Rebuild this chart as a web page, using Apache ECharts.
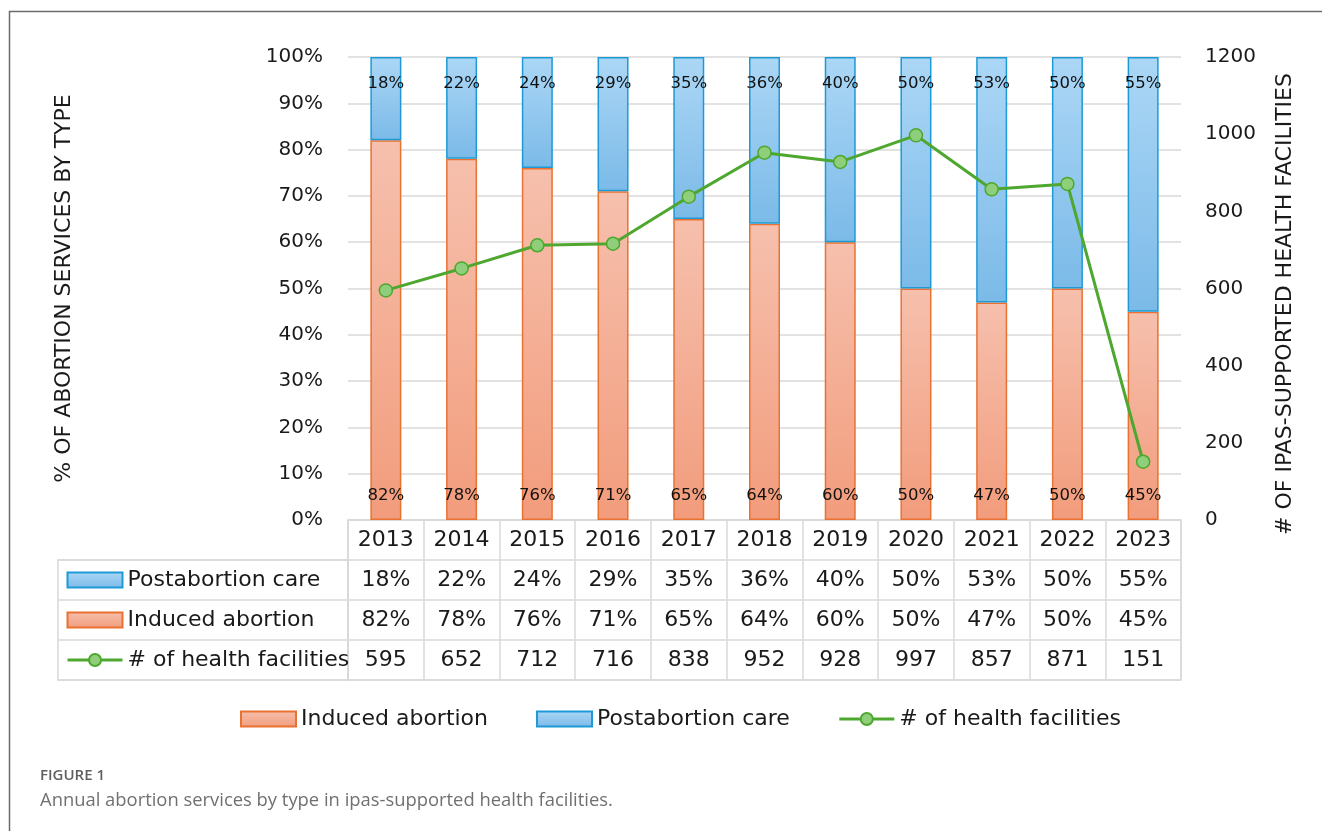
<!DOCTYPE html>
<html>
<head>
<meta charset="utf-8">
<script src="https://cdn.jsdelivr.net/npm/echarts@6/dist/echarts.min.js"></script>
<style>
html,body{margin:0;padding:0;background:#fff;}
#chart{width:1322px;height:831px;}
</style>
</head>
<body>
<div id="chart"></div>
<script>
const years = ['2013','2014','2015','2016','2017','2018','2019','2020','2021','2022','2023'];
const postabortion = [18,22,24,29,35,36,40,50,53,50,55];
const induced = [82,78,76,71,65,64,60,50,47,50,45];
const facilities = [595,652,712,716,838,952,928,997,857,871,151];
const leftTicks = {min:0, max:100, interval:10};
const rightTicks = {min:0, max:1200, interval:200};

const FONT = 'DejaVu Sans';
const TXT = '#1a1a1a';
const GRID = '#d9d9d9';

const blueFill = new echarts.graphic.LinearGradient(0,0,0,1,[{offset:0,color:'#acd7f6'},{offset:1,color:'#7bbae8'}]);
const orangeFill = new echarts.graphic.LinearGradient(0,0,0,1,[{offset:0,color:'#f6c0ad'},{offset:1,color:'#f29c7c'}]);

const chart = echarts.init(document.getElementById('chart'), null, {renderer:'canvas'});

const option = {
  backgroundColor:'#fff',
  animation:false,
  textStyle:{fontFamily:FONT},
  title:{
    text:'FIGURE 1',
    subtext:'Annual abortion services by type in ipas-supported health facilities.',
    left:40, top:768, itemGap:9, padding:0,
    textStyle:{fontFamily:'Open Sans', fontSize:15, fontWeight:600, color:'#5f5f5f'},
    subtextStyle:{fontFamily:'Open Sans', fontSize:18.4, color:'#707070'}
  },
  graphic:[{
    type:'rect', silent:true,
    shape:{x:9.5,y:11.5,width:1400,height:900},
    style:{fill:'none', stroke:'#6b6b6b', lineWidth:1.5}
  }],
  legend:[
    {
      orient:'vertical', left:66, top:569, padding:0, itemGap:18,
      itemWidth:55, itemHeight:15, selectedMode:false,
      lineStyle:{width:3},
      textStyle:{fontFamily:FONT, fontSize:22, color:TXT, lineHeight:22},
      data:[{name:'Postabortion care', icon:'rect'},{name:'Induced abortion', icon:'rect'},{name:'# of health facilities'}]
    },
    {
      orient:'horizontal', left:240, top:708, padding:0, itemGap:48,
      itemWidth:55, itemHeight:15, selectedMode:false,
      lineStyle:{width:3},
      textStyle:{fontFamily:FONT, fontSize:22, color:TXT, lineHeight:22},
      data:[{name:'Induced abortion', icon:'rect'},{name:'Postabortion care', icon:'rect'},{name:'# of health facilities'}]
    }
  ],
  grid:[
    {left:348, right:141, top:57, height:463},
    {left:348, right:141, top:520, height:160, show:true, borderColor:GRID, borderWidth:1.5, backgroundColor:'transparent'},
    {left:58, width:290, top:560, height:120, show:true, borderColor:GRID, borderWidth:1.5, backgroundColor:'transparent'}
  ],
  xAxis:[
    {
      type:'category', gridIndex:0, data:years,
      axisLine:{show:false}, axisTick:{show:false},
      axisLabel:{
        interval:0, margin:0, fontFamily:FONT, fontSize:22, color:TXT, lineHeight:40,
        formatter:function(v, i){
          return years[i] + '\n' + postabortion[i] + '%\n' + induced[i] + '%\n' + facilities[i];
        }
      }
    },
    {
      type:'category', gridIndex:1, data:years,
      axisLine:{show:false}, axisTick:{show:false}, axisLabel:{show:false},
      splitLine:{show:true, interval:0, lineStyle:{color:GRID, width:1.5}}
    },
    {
      type:'value', gridIndex:2, show:false
    }
  ],
  yAxis:[
    {
      type:'value', gridIndex:0, min:leftTicks.min, max:leftTicks.max, interval:leftTicks.interval,
      axisLine:{show:false}, axisTick:{show:false},
      axisLabel:{formatter:'{value}%', fontFamily:FONT, fontSize:20, color:TXT, margin:25},
      splitLine:{lineStyle:{color:GRID, width:1.5}},
      name:'% OF ABORTION SERVICES BY TYPE', nameLocation:'middle', nameRotate:90, nameGap:273,
      nameTextStyle:{fontFamily:FONT, fontSize:22, color:TXT}
    },
    {
      type:'value', gridIndex:0, position:'right', min:rightTicks.min, max:rightTicks.max, interval:rightTicks.interval,
      axisLine:{show:false}, axisTick:{show:false}, splitLine:{show:false},
      axisLabel:{fontFamily:FONT, fontSize:20, color:TXT, margin:24, formatter:function(v){return String(v);}},
      name:'# OF IPAS-SUPPORTED HEALTH FACILITIES', nameLocation:'middle', nameRotate:90, nameGap:93,
      nameTextStyle:{fontFamily:FONT, fontSize:22, color:TXT, padding:[0,31,0,0]}
    },
    {
      type:'value', gridIndex:1, min:0, max:4, interval:1,
      axisLine:{show:false}, axisTick:{show:false}, axisLabel:{show:false},
      splitLine:{show:true, lineStyle:{color:GRID, width:1.5}}
    },
    {
      type:'value', gridIndex:2, min:0, max:3, interval:1,
      axisLine:{show:false}, axisTick:{show:false}, axisLabel:{show:false},
      splitLine:{show:true, lineStyle:{color:GRID, width:1.5}}
    }
  ],
  series:[
    {
      name:'Induced abortion', type:'bar', stack:'services', xAxisIndex:0, yAxisIndex:0,
      data:induced, barWidth:31,
      itemStyle:{color:orangeFill, borderColor:'#E97132', borderWidth:1.5},
      label:{show:true, position:'insideBottom', distance:16, formatter:'{c}%', fontFamily:FONT, fontSize:16.5, color:'#111'}
    },
    {
      name:'Postabortion care', type:'bar', stack:'services', xAxisIndex:0, yAxisIndex:0,
      data:postabortion, barWidth:31,
      itemStyle:{color:blueFill, borderColor:'#1d9ad6', borderWidth:1.5},
      label:{show:true, position:'insideTop', distance:18, formatter:'{c}%', fontFamily:FONT, fontSize:16.5, color:'#111'}
    },
    {
      name:'# of health facilities', type:'line', xAxisIndex:0, yAxisIndex:1,
      data:facilities, symbol:'circle', symbolSize:13,
      lineStyle:{color:'#4EA72E', width:3},
      itemStyle:{color:'#8fcf7b', borderColor:'#4EA72E', borderWidth:1.5},
      z:5
    }
  ]
};
chart.setOption(option);
</script>
</body>
</html>
